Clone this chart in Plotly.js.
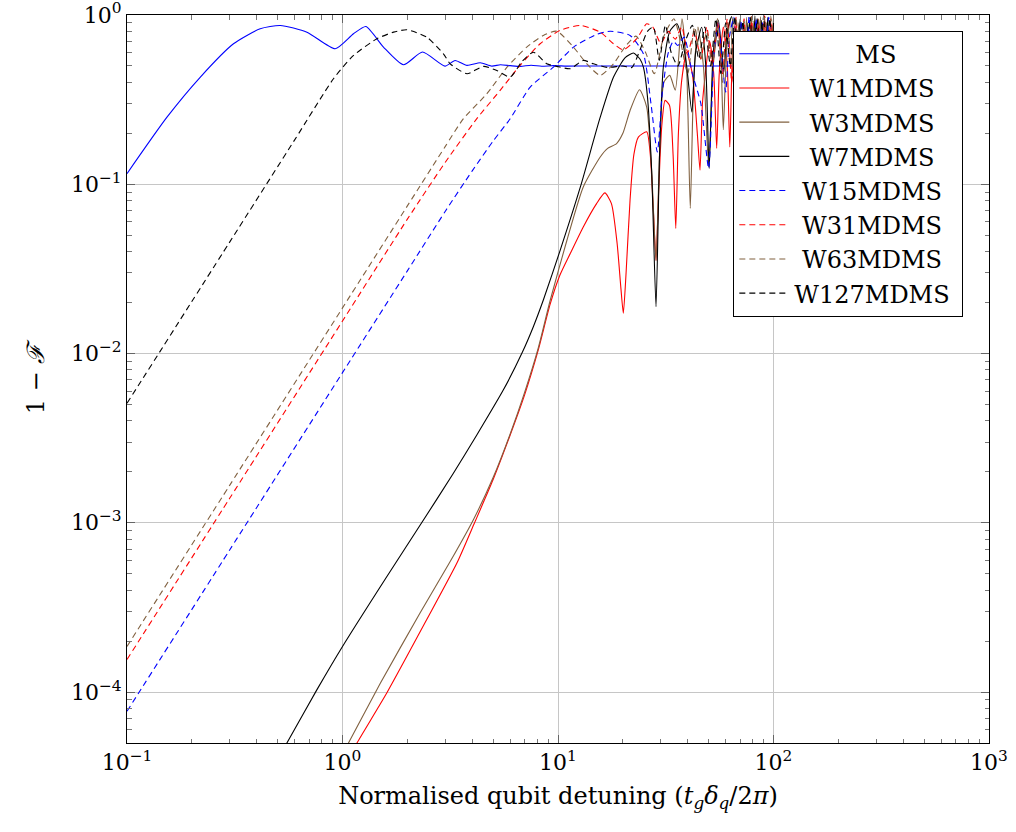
<!DOCTYPE html>
<html>
<head>
<meta charset="utf-8">
<script src="https://cdn.plot.ly/plotly-3.0.1.min.js"></script>
<style>body{margin:0;padding:0;background:#fff;}#chart{width:1016px;height:832px;}</style>
</head>
<body>
<div id="chart"></div>
<script>
// ---- data ----
const seriesNames = ['MS','W1MDMS','W3MDMS','W7MDMS','W15MDMS','W31MDMS','W63MDMS','W127MDMS'];

const msX = [0.1,0.1533,0.219,0.312,0.415,0.514,0.684,0.925,1.125,1.284,1.549,1.918,2.35,2.99,3.33,3.78,4.36,4.93,5.4,6.0,6.7,7.5,8.4,9.5,11,13,20,40,100];
const msY = [0.1156,0.249,0.430,0.676,0.829,0.867,0.792,0.632,0.775,0.855,0.646,0.508,0.604,0.499,0.539,0.504,0.522,0.499,0.508,0.502,0.497,0.505,0.498,0.502,0.499,0.5,0.5,0.5,0.5];

const w1X = [1.05,1.167,1.607,2.46,3.40,4.1,5.0,6.0,7.0,8.1,9.19,10.2,11.4,13.1,15.1,16.5,17.7,18.8,19.6,20.1,20.7,21.6,22.5,23.6,25.8,26.8,27.7,28.5,29.3,30.3,31.4,32.9,34.2,35.2,36.2,37.5,39.5,42,44.3,45.6,46.8,48.1,50.5,52.8,54.5,56,58.5,61,62.7,64.5,67,70,73,76,79,82,85,88,91,94,97,100];
const w1Y = [3.9e-5,5e-5,9.9e-5,2.68e-4,5.8e-4,1.0e-3,1.8e-3,3.3e-3,5.7e-3,0.0105,0.0195,0.0290,0.039,0.056,0.0769,0.0889,0.0769,0.045,0.024,0.0173,0.030,0.081,0.15,0.19,0.204,0.15,0.07,0.0355,0.09,0.22,0.313,0.293,0.15,0.0548,0.2,0.411,0.6,0.45,0.2,0.121,0.3,0.43,0.7,0.45,0.163,0.45,0.85,0.5,0.166,0.6,0.95,0.25,0.9,0.3,0.97,0.2,0.9,0.4,0.98,0.3,0.92,0.6];

const w3X = [0.95,1.066,1.50,2.29,3.16,4.06,5.0,6.0,7.0,8.1,9.19,11.0,13.1,15.7,17.0,18.7,20.0,21.6,23.9,25.8,27.2,28.5,29.6,31,33,35,37.6,39.6,41.1,42.6,44.6,47.3,50,52.5,55.5,57.2,58.5,60.5,63,66,69,72,75,78,81,84,87,90,93,96,100];
const w3Y = [3.8e-5,5e-5,1.13e-4,2.93e-4,5.9e-4,1.05e-3,1.85e-3,3.35e-3,5.9e-3,0.0108,0.0205,0.0467,0.0964,0.145,0.163,0.174,0.2,0.273,0.362,0.286,0.12,0.0355,0.15,0.40,0.44,0.36,0.95,0.45,0.072,0.4,0.85,0.5,0.127,0.5,0.87,0.5,0.21,0.6,0.95,0.3,0.9,0.35,0.97,0.25,0.92,0.4,0.98,0.3,0.9,0.5,0.95];

const w7X = [0.45,0.552,0.760,1.0,1.607,2.33,3.27,4.2,5.58,6.84,7.7,8.55,10.24,12.7,15.7,18.1,20.5,22.4,24.0,24.9,26.0,27.2,28.5,29.6,30.8,33,35.6,37.8,39.6,41.8,43.5,46.4,48.5,50.3,52.5,55.5,57.5,58.8,61,64,67,70,73,76,79,82,85,88,91,94,97,100];
const w7Y = [3.15e-5,5e-5,1.03e-4,1.86e-4,4.82e-4,1.0e-3,1.96e-3,3.3e-3,6.1e-3,0.0102,0.0145,0.0207,0.0408,0.0964,0.249,0.43,0.56,0.596,0.55,0.492,0.33,0.12,0.0189,0.15,0.49,0.8,0.887,0.7,0.49,0.267,0.6,0.847,0.5,0.124,0.6,0.929,0.6,0.46,0.8,0.98,0.4,0.95,0.2,0.9,0.35,0.99,0.25,0.93,0.45,0.97,0.3,0.9];

const w15X = [0.1,0.3,1,2,3,4,5,6.0,7.43,9.52,11.8,15.1,17.5,21.6,24.9,27,28.9,30.5,32.5,34.3,36,38.5,42,46,50,53,55.5,58,60,62.5,65.5,68,71,74,77,80,83,86,89,92,95,100];
const w15Y = [7.7e-5,6.93e-4,7.71e-3,0.0308,0.0693,0.12,0.18,0.244,0.375,0.492,0.646,0.767,0.802,0.757,0.59,0.3,0.155,0.35,0.6,0.70,0.66,0.74,0.45,0.3,0.124,0.6,0.9,0.5,0.35,0.75,0.97,0.4,0.92,0.3,0.98,0.45,0.95,0.35,0.9,0.5,0.97,0.6];

const w31X = [0.1,0.3,1,2,3,4.2,5.39,6.67,8.26,10.2,12.7,15.7,18.1,20.1,23.2,25.8,27.5,30,32.5,35,37.5,40,43,46,49,52,55,58,61,64,67,70,73,76,79,82,85,88,91,94,97,100];
const w31Y = [1.556e-4,1.4e-3,0.01556,0.0622,0.135,0.244,0.359,0.504,0.676,0.810,0.867,0.792,0.676,0.623,0.724,0.887,0.85,0.68,0.8,0.72,0.85,0.6,0.8,0.55,0.85,0.5,0.9,0.45,0.95,0.4,0.97,0.35,0.95,0.4,0.98,0.45,0.95,0.5,0.99,0.4,0.95,0.7];

const w63X = [0.1,0.3,1,2,3,3.64,4.68,5.80,7.16,8.55,9.87,11.8,13.6,15.7,18.1,20.5,23,25.5,28,31,34.5,37,40,43,46,49,52,55,58,61,64,67,70,73,76,79,82,85,88,91,94,97,100];
const w63Y = [1.86e-4,1.67e-3,0.0186,0.0745,0.1675,0.244,0.343,0.492,0.646,0.757,0.802,0.646,0.515,0.44,0.515,0.65,0.75,0.6,0.45,0.75,0.95,0.7,0.45,0.85,0.55,0.8,0.5,0.95,0.4,0.9,0.5,0.97,0.4,0.92,0.5,0.99,0.35,0.95,0.5,0.97,0.45,0.99,0.6];

const w127X = [0.1,0.3,0.6,0.908,1.125,1.445,1.726,1.99,2.46,2.94,3.16,3.78,4.51,5.2,6.0,6.8,7.69,8.87,9.87,11.4,13.1,14.6,17,20,22,24,26,27.7,29.5,31.5,33.5,36,39,42,45,48,51,54,57,60,63,66,69,72,75,78,81,84,87,90,93,96,100];
const w127Y = [0.00508,0.0457,0.183,0.42,0.577,0.724,0.792,0.818,0.740,0.590,0.515,0.450,0.497,0.47,0.43,0.53,0.603,0.515,0.497,0.482,0.539,0.515,0.49,0.5,0.49,0.62,0.8,0.85,0.54,0.87,0.6,0.5,0.7,0.87,0.55,0.85,0.5,0.95,0.45,0.9,0.5,0.98,0.45,0.92,0.5,0.97,0.4,0.95,0.55,0.99,0.45,0.95,0.5];

const xTickVals = [0.1,1,10,100,1000];
const xTickText = ['10<sup>−1</sup>','10<sup>0</sup>','10<sup>1</sup>','10<sup>2</sup>','10<sup>3</sup>'];
const yTickVals = [1e-4,1e-3,1e-2,1e-1,1];
const yTickText = ['10<sup>−4</sup>','10<sup>−3</sup>','10<sup>−2</sup>','10<sup>−1</sup>','10<sup>0</sup>'];

// ---- styling ----
const colors = ['#0000ff','#ff0000','#80603f','#000000','#0000ff','#ff0000','#80603f','#000000'];
const dashes = ['solid','solid','solid','solid','6px,4px','6px,4px','6px,4px','6px,4px'];
// legend labels centred in their column (leading / trailing no-break spaces)
const padLeft = [8,2,2,2,1,1,1,0];
const padRight = [0,0,0,0,0,0,0,1];
const xs = [msX,w1X,w3X,w7X,w15X,w31X,w63X,w127X];
const ys = [msY,w1Y,w3Y,w7Y,w15Y,w31Y,w63Y,w127Y];

const traces = seriesNames.map((n,i)=>({
  x: xs[i], y: ys[i], type:'scatter', mode:'lines',
  name: '\u00a0'.repeat(padLeft[i]) + n + '\u00a0'.repeat(padRight[i]),
  line:{color:colors[i], width:1.1, dash:dashes[i], shape:'spline', smoothing:0.6}
}));

function minorVals(lo, hi){
  const out=[];
  for(let e=lo;e<=hi;e++){ for(let m=2;m<=9;m++){ out.push(m*Math.pow(10,e)); } }
  return out;
}

const FONT = "'DejaVu Serif', serif";
const axisCommon = {
  type:'log', tickmode:'array', ticks:'inside', ticklen:8, tickwidth:1, tickcolor:'#666',
  showgrid:true, gridcolor:'#c6c6c6', gridwidth:1, showline:true, linecolor:'#000', linewidth:1,
  mirror:'allticks', zeroline:false, ticklabeloverflow:'allow',
  tickfont:{family:FONT, size:22, color:'#000'}
};

const layout = {
  width:1016, height:832,
  margin:{l:127, r:27, t:15, b:89, pad:0},
  paper_bgcolor:'#fff', plot_bgcolor:'#fff',
  font:{family:FONT, size:24, color:'#000'},
  showlegend:true,
  legend:{x:0.7034, y:0.9785, xanchor:'left', yanchor:'top', bgcolor:'#fff', bordercolor:'#000', borderwidth:1,
          font:{family:FONT, size:24, color:'#000'}, itemwidth:50},
  xaxis: Object.assign({}, axisCommon, {
    range:[-1,3], tickvals:xTickVals, ticktext:xTickText,
    minor:{tickmode:'array', tickvals:minorVals(-1,2), ticks:'inside', ticklen:4.5, tickcolor:'#777', showgrid:false},
    title:{text:'Normalised qubit detuning (<i>t</i><sub><i>g</i></sub><i>δ</i><sub><i>q</i></sub>/2<i>π</i>)', font:{family:FONT, size:24, color:'#000'}, standoff:12}
  }),
  yaxis: Object.assign({}, axisCommon, {
    range:[-4.301,0], tickvals:yTickVals, ticktext:yTickText,
    minor:{tickmode:'array', tickvals:minorVals(-5,-1), ticks:'inside', ticklen:4.5, tickcolor:'#777', showgrid:false},
    title:{text:'1 − <i>ℱ</i>', font:{family:FONT, size:24, color:'#000'}, standoff:19}
  })
};

Plotly.newPlot('chart', traces, layout, {staticPlot:true, displayModeBar:false});
</script>
</body>
</html>
